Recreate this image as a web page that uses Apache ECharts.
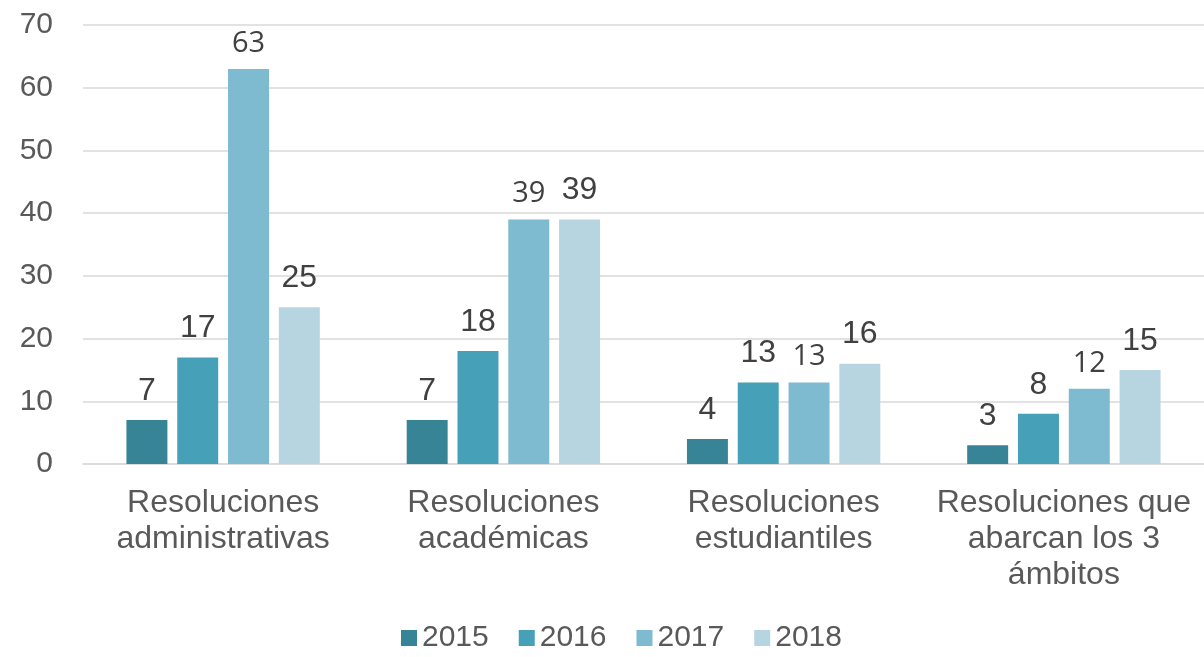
<!DOCTYPE html>
<html>
<head>
<meta charset="utf-8">
<script src="https://cdn.jsdelivr.net/npm/echarts@6/dist/echarts.min.js"></script>
<style>
    html, body {margin: 0; padding: 0; background: #fff;}
    #main {width: 1204px; height: 657px;}
</style>
</head>
<body>
<div id="main"></div>
<script>
    var categories = ['Resoluciones\nadministrativas', 'Resoluciones\nacadémicas', 'Resoluciones\nestudiantiles', 'Resoluciones que\nabarcan los 3\námbitos'];
    var years = ['2015', '2016', '2017', '2018'];
    var v2015 = [7, 7, 4, 3];
    var v2016 = [17, 18, 13, 8];
    var v2017 = [63, 39, 13, 12];
    var v2018 = [25, 39, 16, 15];
    var yTicks = [0, 10, 20, 30, 40, 50, 60, 70];

    var colors = ['#378497', '#46a0b8', '#7ebad0', '#b7d5e0'];
    var values = [v2015, v2016, v2017, v2018];

    var myChart = echarts.init(document.getElementById('main'));

    // the 2017 labels are drawn in a smaller, different face in the original
    var series = years.map(function (y, i) {
        var small = (y === '2017');
        return {
            name: y,
            type: 'bar',
            data: values[i],
            barGap: '24%',
            barCategoryGap: '31%',
            itemStyle: {color: colors[i]},
            label: {
                show: true,
                position: 'top',
                distance: small ? 11 : 13,
                color: '#404040',
                fontSize: small ? 29 : 32,
                fontFamily: small ? 'Open Sans' : 'Liberation Sans'
            }
        };
    });

    var option = {
        animation: false,
        textStyle: {fontFamily: 'Liberation Sans'},
        grid: {left: 83, right: 0, top: 25, bottom: 193, containLabel: false},
        legend: {
            data: years,
            top: 618,
            left: 396,
            itemWidth: 16,
            itemHeight: 16,
            itemGap: 30,
            icon: 'rect',
            textStyle: {fontSize: 30, color: '#595959', fontFamily: 'Liberation Sans'}
        },
        xAxis: {
            type: 'category',
            data: categories,
            axisLine: {lineStyle: {color: '#d9d9d9', width: 1.5}},
            axisTick: {show: false},
            axisLabel: {fontSize: 32, color: '#595959', lineHeight: 36, margin: 21, interval: 0}
        },
        yAxis: {
            type: 'value',
            min: yTicks[0],
            max: yTicks[yTicks.length - 1],
            interval: 10,
            axisLine: {show: false},
            axisTick: {show: false},
            splitLine: {lineStyle: {color: '#d9d9d9', width: 1.5}},
            axisLabel: {fontSize: 30, color: '#595959', margin: 30}
        },
        series: series
    };
    myChart.setOption(option);
</script>
</body>
</html>
